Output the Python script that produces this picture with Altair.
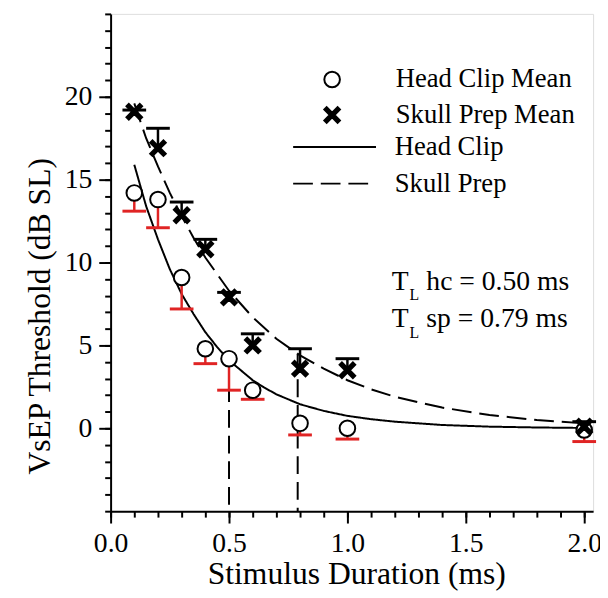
import altair as alt
import pandas as pd

# ---------------- data ----------------
durations = [0.1, 0.2, 0.3, 0.4, 0.5, 0.6, 0.8, 1.0, 2.0]
hc_mean = [14.2, 13.8, 9.1, 4.8, 4.2, 2.3, 0.3, 0.0, -0.1]
hc_lower = [13.1, 12.1, 7.2, 3.9, 2.3, 1.75, -0.4, -0.65, -0.8]
sp_mean = [19.1, 16.9, 12.85, 10.8, 7.9, 5.0, 3.6, 3.5, 0.1]
sp_upper = [19.2, 18.1, 13.65, 11.4, 8.2, 5.7, 4.8, 4.2, 0.4]

hc_fit_x = [0.1, 0.15, 0.2, 0.25, 0.3, 0.35, 0.4, 0.45, 0.5, 0.55, 0.6, 0.65,
            0.7, 0.8, 0.9, 1.0, 1.1, 1.2, 1.4, 1.6, 1.8, 2.0]
hc_fit_y = [15.9, 13.4, 11.4, 9.6, 8.1, 6.9, 5.8, 4.9, 4.1, 3.5, 2.9, 2.45,
            2.05, 1.45, 1.05, 0.75, 0.55, 0.4, 0.2, 0.1, 0.05, 0.02]
sp_fit_x = [0.1, 0.15, 0.2, 0.25, 0.3, 0.35, 0.4, 0.45, 0.5, 0.6, 0.7, 0.8,
            0.9, 1.0, 1.1, 1.2, 1.4, 1.6, 1.8, 2.0]
sp_fit_y = [19.6, 17.5, 15.8, 14.2, 12.8, 11.5, 10.3, 9.3, 8.3, 6.7, 5.4, 4.4,
            3.6, 2.9, 2.35, 1.9, 1.25, 0.8, 0.5, 0.3]

tl_x = [0.5, 0.79]
tl_top = [4.2, 4.5]

mean_names = ["Head Clip Mean", "Skull Prep Mean"]
fit_names = ["Head Clip", "Skull Prep"]
tl_labels = ["hc = 0.50 ms", "sp = 0.79 ms"]

x_major = [0, 0.5, 1.0, 1.5, 2.0]
x_minor = [0, 0.1, 0.2, 0.3, 0.4, 0.5, 0.6, 0.7, 0.8, 0.9, 1.0, 1.1, 1.2,
           1.3, 1.4, 1.5, 1.6, 1.7, 1.8, 1.9, 2.0]
y_major = [0, 5, 10, 15, 20]
y_minor = [-5, -4, -3, -2, -1, 0, 1, 2, 3, 4, 5, 6, 7, 8, 9, 10, 11, 12, 13,
           14, 15, 16, 17, 18, 19, 20, 21, 22, 23, 24, 25]

# ---------------- tables ----------------
n = len(durations)
points = pd.DataFrame({
    "x": durations + durations,
    "y": hc_mean + sp_mean,
    "kind": [mean_names[0]] * n + [mean_names[1]] * n,
})
hc_err = pd.DataFrame({"x": durations, "m": hc_mean, "e": hc_lower})
sp_err = pd.DataFrame({"x": durations, "m": sp_mean, "e": sp_upper})
hc_fit = pd.DataFrame({"x": hc_fit_x, "y": hc_fit_y, "fit": [fit_names[0]] * len(hc_fit_x)})
sp_fit = pd.DataFrame({"x": sp_fit_x, "y": sp_fit_y, "fit": [fit_names[1]] * len(sp_fit_x)})
tl = pd.DataFrame({"x": tl_x, "top": tl_top})

FONT = "Liberation Serif"
RED = "#e02424"
XPATH = ("M-0.7,-1L0,-0.3L0.7,-1L1,-0.7L0.3,0L1,0.7L0.7,1L0,0.3"
         "L-0.7,1L-1,0.7L-0.3,0L-1,-0.7Z")

xs = alt.Scale(domain=[0, 2.0375], nice=False, zero=False)
ys = alt.Scale(domain=[-5, 25], nice=False, zero=False)

axis_common = dict(grid=False, domainColor="black", domainWidth=2,
                   tickColor="black", tickWidth=2, labelColor="black",
                   labelFont=FONT, labelFontSize=28, titleFont=FONT,
                   titleFontSize=32, titleColor="black", titleFontWeight="normal")

x_axis = alt.Axis(values=x_major, format=".1f", tickSize=12, labelPadding=7,
                  orient="bottom", title="Stimulus Duration (ms)",
                  titleX=249, titleY=73, titleBaseline="alphabetic",
                  labelFlush=False, labelOverlap=False, **axis_common)
y_axis = alt.Axis(values=y_major, format="d", tickSize=12, labelPadding=7,
                  orient="left", title="VsEP Threshold (dB SL)",
                  titleX=-72, titleY=306, titleAngle=270, titleAlign="center",
                  titleBaseline="middle", labelBaseline="middle",
                  labelFlush=False, labelOverlap=False, **axis_common)
x_minor_axis = alt.Axis(values=x_minor, labels=False, title=None, domain=False,
                        tickSize=6, tickWidth=2, tickColor="black", grid=False,
                        orient="bottom")
y_minor_axis = alt.Axis(values=y_minor, labels=False, title=None, domain=False,
                        tickSize=6, tickWidth=2, tickColor="black", grid=False,
                        orient="left")

X0 = alt.X("x:Q", scale=xs, axis=None)

# minor tick layer (invisible marks)
minor = alt.Chart(hc_fit).mark_point(opacity=0).encode(
    x=alt.X("x:Q", scale=xs, axis=x_minor_axis),
    y=alt.Y("y:Q", scale=ys, axis=y_minor_axis),
)


def line_legend(y):
    return alt.Legend(orient="none", legendX=184, legendY=y, title=None,
                      labelFont=FONT, labelFontSize=27, labelColor="black",
                      labelLimit=400, symbolType="stroke", symbolSize=7056,
                      symbolStrokeColor="black", symbolStrokeWidth=2,
                      labelOffset=18, padding=0)


hc_line = alt.Chart(hc_fit).mark_line(color="black", strokeWidth=2).encode(
    x=alt.X("x:Q", scale=xs, axis=x_axis),
    y=alt.Y("y:Q", scale=ys, axis=y_axis),
    strokeDash=alt.StrokeDash("fit:N", scale=alt.Scale(domain=[fit_names[0]], range=[[1, 0]]),
                              legend=line_legend(92)),
)
sp_line = alt.Chart(sp_fit).mark_line(color="black", strokeWidth=2).encode(
    x=X0, y=alt.Y("y:Q", scale=ys, axis=None),
    strokeDash=alt.StrokeDash("fit:N", scale=alt.Scale(domain=[fit_names[1]], range=[[20, 8]]),
                              legend=line_legend(129)),
)

vlines = alt.Chart(tl).mark_rule(color="black", strokeWidth=2,
                                 strokeDash=[18, 8]).encode(
    x=X0, y=alt.Y("top:Q", scale=ys, axis=None), y2=alt.datum(-5)
)

hc_rule = alt.Chart(hc_err).mark_rule(color=RED, strokeWidth=2.5).encode(
    x=X0, y=alt.Y("m:Q", scale=ys, axis=None), y2="e:Q")
hc_cap = alt.Chart(hc_err).mark_tick(color=RED, orient="horizontal", size=24,
                                     thickness=3, opacity=1).encode(
    x=X0, y=alt.Y("e:Q", scale=ys, axis=None))
sp_rule = alt.Chart(sp_err).mark_rule(color="black", strokeWidth=2.5).encode(
    x=X0, y=alt.Y("m:Q", scale=ys, axis=None), y2="e:Q")
sp_cap = alt.Chart(sp_err).mark_tick(color="black", orient="horizontal", size=24,
                                     thickness=3, opacity=1).encode(
    x=X0, y=alt.Y("e:Q", scale=ys, axis=None))

pt_legend = dict(orient="none", legendX=211, legendY=53, title=None,
                 labelFont=FONT, labelFontSize=27, labelColor="black",
                 labelLimit=400, symbolSize=250, symbolStrokeWidth=2,
                 labelOffset=51, rowPadding=8, padding=0)
pts = alt.Chart(points).mark_point(filled=True, size=250, strokeWidth=2,
                                   opacity=1).encode(
    x=X0, y=alt.Y("y:Q", scale=ys, axis=None),
    shape=alt.Shape("kind:N", scale=alt.Scale(domain=mean_names,
                                              range=["circle", XPATH]),
                    legend=alt.Legend(**pt_legend)),
    fill=alt.Fill("kind:N", scale=alt.Scale(domain=mean_names,
                                            range=["white", "black"]),
                  legend=alt.Legend(**pt_legend)),
    stroke=alt.Stroke("kind:N", scale=alt.Scale(domain=mean_names,
                                                range=["black", "black"]),
                      legend=alt.Legend(**pt_legend)),
)


def txt(s, x, y, size):
    return alt.Chart(pd.DataFrame({"t": [s]})).mark_text(
        font=FONT, fontSize=size, color="black", align="left",
        baseline="alphabetic").encode(x=alt.value(x), y=alt.value(y), text="t:N")


ann = [txt("T", 285, 280, 28), txt("L", 303, 290, 16), txt(tl_labels[0], 320, 280, 28),
       txt("T", 285, 317, 28), txt("L", 303, 328, 16), txt(tl_labels[1], 320, 317, 28)]

chart = alt.layer(minor, hc_line, sp_line, vlines, hc_rule, hc_cap, sp_rule, sp_cap,
                  pts, *ann).resolve_axis(
    x="independent", y="independent"
).resolve_scale(strokeDash="independent").properties(
    width=489, height=504, autosize="none",
    padding={"left": 104, "top": 2, "right": 7, "bottom": 84},
).configure_view(stroke=None).configure(background="white")

chart.save("out.html", embed_options={"renderer": "svg", "actions": False})
